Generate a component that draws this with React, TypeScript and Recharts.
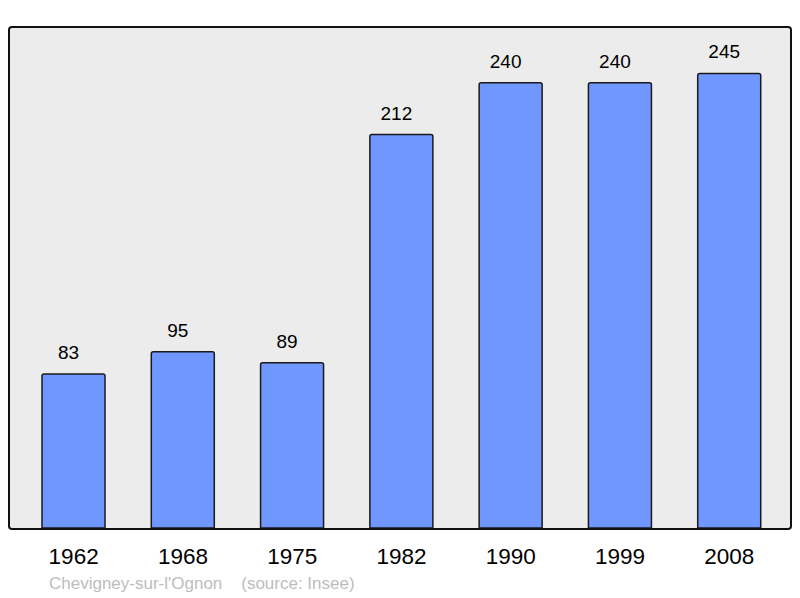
import { BarChart, Bar, XAxis, YAxis, CartesianGrid, LabelList } from 'recharts'

const years = ['1962', '1968', '1975', '1982', '1990', '1999', '2008']
const population = [83, 95, 89, 212, 240, 240, 245]

const data = years.map((year, i) => ({ year, population: population[i] }))

const font = '"Liberation Sans", Arial, sans-serif'

export default function App() {
  return (
    <div style={{ position: 'fixed', top: 0, left: 0, width: 800, height: 598, background: '#fff', fontFamily: font }}>
      <BarChart
        width={800}
        height={598}
        data={data}
        margin={{ top: 27, right: 9, left: 9, bottom: 30 }}
      >
        <CartesianGrid fill="#ececec" horizontal={false} vertical={false} />
        <XAxis
          dataKey="year"
          axisLine={false}
          tickLine={false}
          tickSize={0}
          tickMargin={20}
          height={40}
          padding={{ left: 10, right: 7 }}
          tick={{ fill: '#000', fontSize: 22.5, fontFamily: font }}
        />
        <YAxis hide domain={[0, 270]} />
        <Bar
          dataKey="population"
          fill="#7097ff"
          stroke="#1a1a1a"
          strokeWidth={1.5}
          barSize={63}
          radius={[2, 2, 0, 0]}
          isAnimationActive={false}
        >
          <LabelList
            dataKey="population"
            position="top"
            offset={15}
            dx={-5}
            fill="#000"
            fontSize={19}
            fontFamily={font}
          />
        </Bar>
      </BarChart>
      <div
        style={{
          position: 'absolute',
          left: 8,
          top: 26,
          width: 784,
          height: 504,
          border: '2px solid #111',
          borderRadius: 4,
          boxSizing: 'border-box',
          pointerEvents: 'none',
        }}
      />
      <div
        style={{
          position: 'absolute',
          left: 49,
          top: 574,
          fontSize: 17,
          color: '#bdbdbd',
          whiteSpace: 'pre',
        }}
      >
        {"Chevigney-sur-l'Ognon    (source: Insee)"}
      </div>
    </div>
  )
}
